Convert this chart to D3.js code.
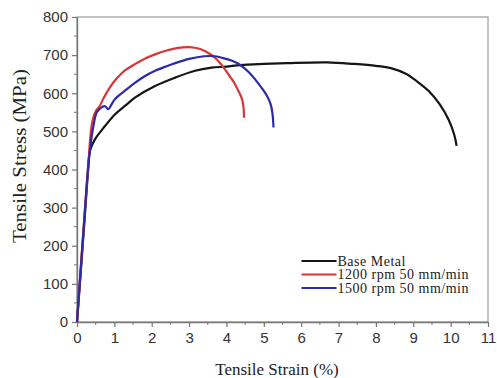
<!DOCTYPE html>
<html>
<head>
<meta charset="utf-8">
<script src="https://cdn.jsdelivr.net/npm/d3@7"></script>
<style>
  body { margin: 0; background: #fff; }
  svg { display: block; }
</style>
</head>
<body>
<svg id="chart"></svg>
<script>
const width = 497;
const height = 378;

// Strain (%) and stress (MPa) for each curve
const baseStrain = [0, 0.1, 0.2, 0.3, 0.35, 0.48, 0.75, 1.02, 1.3, 1.56, 2.09, 2.63, 3.16, 3.6, 4.0, 4.37, 5.0, 5.62, 6.7, 7.4, 8.0, 8.4, 8.8, 9.1, 9.4, 9.7, 9.95, 10.1, 10.16];
const baseStress = [0, 130, 265, 400, 450, 479, 514, 545, 568, 589, 619, 641, 659, 667, 670, 674, 677, 679, 681, 677, 672, 666, 651, 631, 607, 572, 530, 490, 462];

const r1200Strain = [0, 0.1, 0.2, 0.3, 0.4, 0.5, 0.6, 0.7, 0.85, 1.02, 1.15, 1.3, 1.56, 1.8, 2.09, 2.4, 2.7, 3.0, 3.3, 3.56, 3.75, 3.92, 4.1, 4.2, 4.32, 4.42, 4.46, 4.47];
const r1200Stress = [0, 140, 280, 410, 520, 553, 565, 585, 611, 634, 648, 661, 677, 690, 702, 712, 719, 721, 716, 703, 688, 668, 643, 629, 606, 584, 560, 536];

const r1500Strain = [0, 0.1, 0.2, 0.3, 0.37, 0.44, 0.53, 0.66, 0.75, 0.84, 0.92, 1.02, 1.3, 1.56, 1.8, 2.09, 2.4, 2.63, 3.0, 3.4, 3.7, 3.92, 4.15, 4.37, 4.6, 4.82, 5.0, 5.1, 5.18, 5.23, 5.26];
const r1500Stress = [0, 140, 275, 409, 470, 514, 550, 563, 566, 558, 570, 585, 608, 628, 644, 659, 671, 679, 690, 697, 697, 692, 685, 674, 655, 630, 606, 590, 572, 548, 510];

const seriesNames = ['Base Metal', '1200 rpm 50 mm/min', '1500 rpm 50 mm/min'];
const seriesColors = ['#151515', '#d8353a', '#2b2ba8'];

const xTicks = d3.range(0, 12);
const yTicks = d3.range(0, 900, 100);

const margin = { top: 17, right: 9, bottom: 56, left: 77 };
const innerW = width - margin.left - margin.right;
const innerH = height - margin.top - margin.bottom;

const svg = d3.select('#chart')
  .attr('width', width)
  .attr('height', height);

const g = svg.append('g')
  .attr('transform', `translate(${margin.left},${margin.top})`);

const x = d3.scaleLinear().domain([0, 11]).range([0, innerW]);
const y = d3.scaleLinear().domain([0, 800]).range([innerH, 0]);

// frame (top and right sides)
g.append('rect')
  .attr('width', innerW)
  .attr('height', innerH)
  .attr('fill', 'none')
  .attr('stroke', '#999')
  .attr('stroke-width', 1.2);

// minor ticks
g.append('g')
  .selectAll('line')
  .data(d3.range(0.5, 11, 1))
  .enter().append('line')
  .attr('x1', d => x(d)).attr('x2', d => x(d))
  .attr('y1', innerH).attr('y2', innerH + 3)
  .attr('stroke', '#777');

g.append('g')
  .selectAll('line')
  .data(d3.range(50, 800, 100))
  .enter().append('line')
  .attr('y1', d => y(d)).attr('y2', d => y(d))
  .attr('x1', 0).attr('x2', -3)
  .attr('stroke', '#777');

const xAxis = g.append('g')
  .attr('transform', `translate(0,${innerH})`)
  .call(d3.axisBottom(x).tickValues(xTicks).tickSize(5).tickSizeOuter(0).tickPadding(5));

const yAxis = g.append('g')
  .call(d3.axisLeft(y).tickValues(yTicks).tickSize(5).tickSizeOuter(0).tickPadding(4));

[xAxis, yAxis].forEach(ax => {
  ax.select('.domain').attr('stroke', '#777').attr('stroke-width', 1.4);
  ax.selectAll('.tick line').attr('stroke', '#777').attr('stroke-width', 1.2);
  ax.selectAll('.tick text')
    .attr('fill', '#333')
    .style('font-family', 'Liberation Sans, Arial, sans-serif')
    .style('font-size', '15px');
});

// curves
const curves = [
  baseStrain.map((d, i) => [d, baseStress[i]]),
  r1200Strain.map((d, i) => [d, r1200Stress[i]]),
  r1500Strain.map((d, i) => [d, r1500Stress[i]])
];

const line = d3.line()
  .x(d => x(d[0]))
  .y(d => y(d[1]))
  .curve(d3.curveCatmullRom.alpha(0.5));

g.append('g')
  .selectAll('path')
  .data(curves)
  .enter().append('path')
  .attr('d', line)
  .attr('fill', 'none')
  .attr('stroke', (d, i) => seriesColors[i])
  .attr('stroke-width', 2.2)
  .attr('stroke-linejoin', 'round');

// legend
const legend = g.append('g')
  .attr('transform', `translate(${301.5 - margin.left},${261 - margin.top})`);

const item = legend.selectAll('g')
  .data(seriesNames)
  .enter().append('g')
  .attr('transform', (d, i) => `translate(0,${i * 13.5})`);

item.append('line')
  .attr('x1', 0).attr('x2', 35)
  .attr('stroke', (d, i) => seriesColors[i])
  .attr('stroke-width', 2.2);

item.append('text')
  .attr('x', 36)
  .attr('dy', '0.35em')
  .text(d => d)
  .style('font-family', 'Liberation Serif, Times New Roman, serif')
  .style('font-size', '14px')
  .style('letter-spacing', '0.5px')
  .attr('fill', '#222');

// axis titles
svg.append('text')
  .attr('x', 277)
  .attr('y', 375)
  .attr('text-anchor', 'middle')
  .style('font-family', 'Liberation Serif, Times New Roman, serif')
  .style('font-size', '17px')
  .attr('fill', '#222')
  .text('Tensile Strain (%)');

svg.append('text')
  .attr('transform', 'translate(26,156) rotate(-90)')
  .attr('text-anchor', 'middle')
  .attr('textLength', 174)
  .attr('lengthAdjust', 'spacingAndGlyphs')
  .style('font-family', 'Liberation Serif, Times New Roman, serif')
  .style('font-size', '18px')
  .attr('fill', '#222')
  .text('Tensile Stress (MPa)');
</script>
</body>
</html>
